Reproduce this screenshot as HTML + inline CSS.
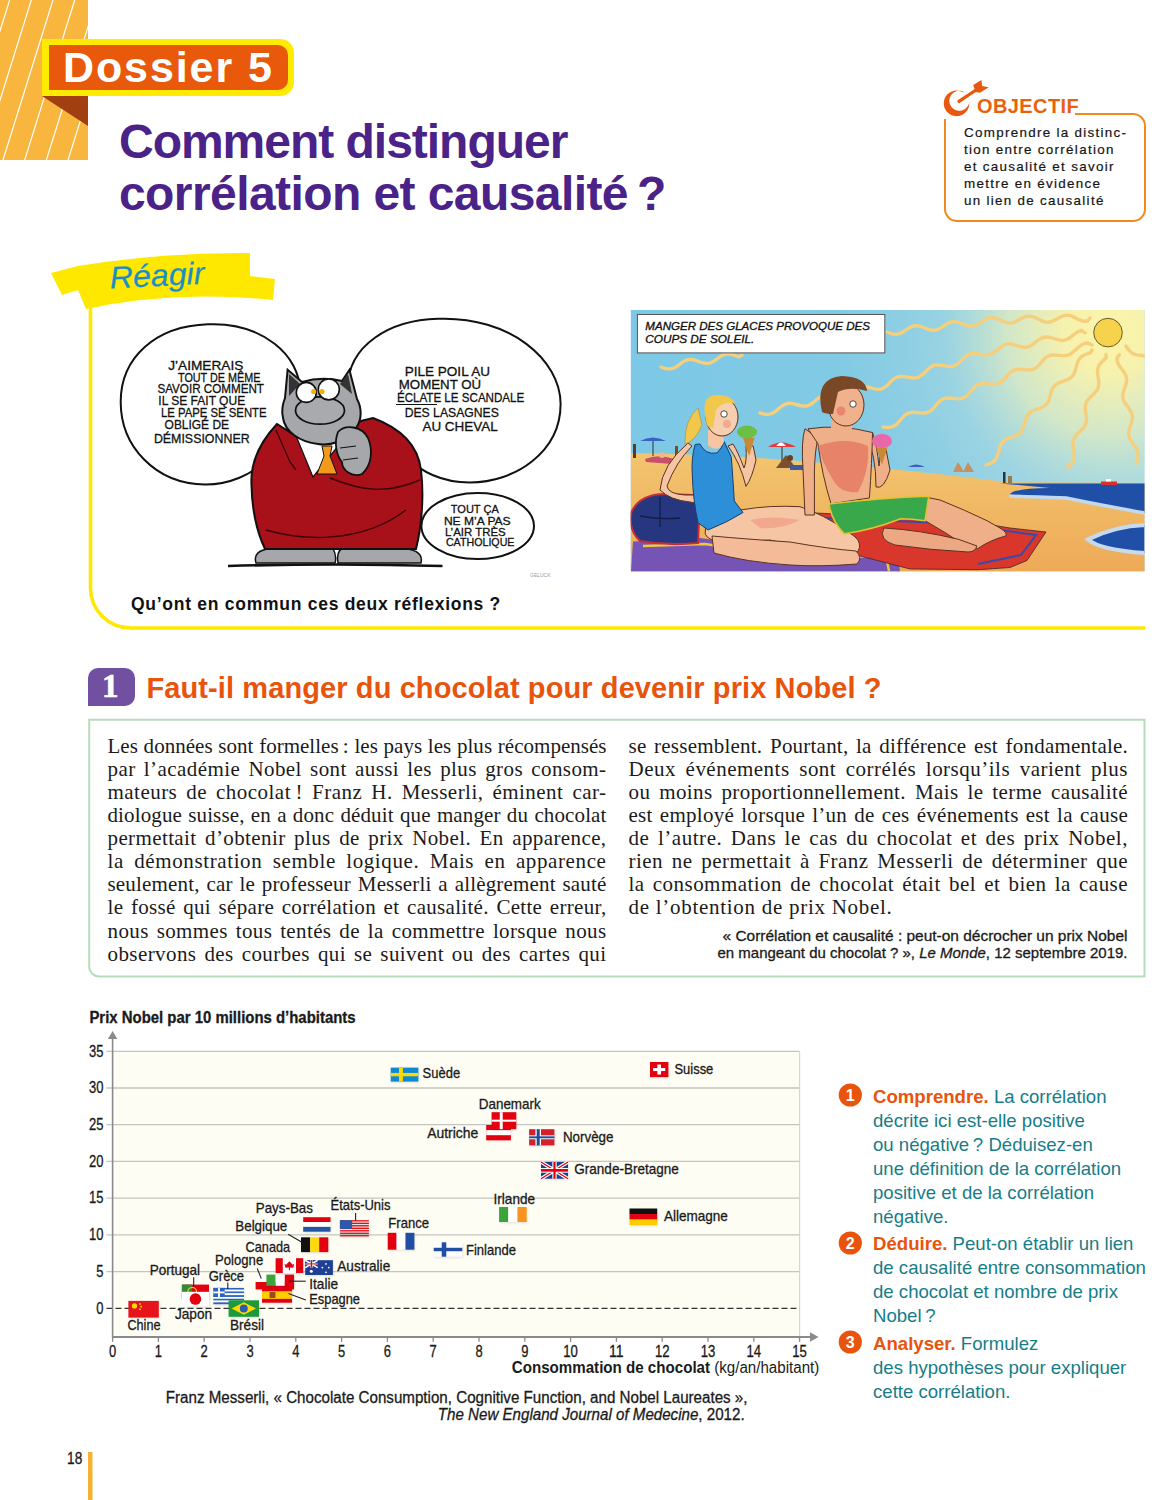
<!DOCTYPE html>
<html lang="fr">
<head>
<meta charset="utf-8">
<style>
html,body{margin:0;padding:0;background:#fff;}
body{width:1173px;height:1500px;position:relative;overflow:hidden;font-family:"Liberation Sans",sans-serif;color:#1a1a1a;}
.a{position:absolute;white-space:nowrap;}
svg{position:absolute;left:0;top:0;}
.title{left:119px;top:115.5px;font-size:48px;font-weight:bold;color:#4a2288;line-height:52px;letter-spacing:-0.8px;}
.obj{left:964px;top:125px;font-size:13.4px;line-height:16.9px;color:#151515;letter-spacing:1.3px;-webkit-text-stroke:0.2px #151515;}
.body{font-family:"Liberation Serif",serif;font-size:21px;line-height:23.15px;color:#1b1b1b;}
.body div{text-align:justify;text-align-last:justify;white-space:nowrap;height:23.15px;}
.body div.l{text-align-last:left;}
.qs{left:873px;font-size:18.6px;line-height:24px;color:#167d88;}
.qs b{color:#e8540c;}
</style>
</head>
<body>
<svg width="1173" height="1500" viewBox="0 0 1173 1500" style="font-family:'Liberation Sans',sans-serif">
<path d="M208,324.3 C262,322 301,356 299.8,392 C298,445 252,485 205,484.5 C155,484 120.7,446 120.7,402 C120.7,358 155,326 208,324.3 Z" fill="#fff" stroke="#111" stroke-width="2"/>
<path d="M438,318.8 C510,316 560.6,360 560.6,404 C560.6,452 515,482.5 470,482.5 C440,482.5 420,470 410,460 C370,440 347.8,420 347.8,388 C347.8,345 390,320 438,318.8 Z" fill="#fff" stroke="#111" stroke-width="2"/>
<ellipse cx="477.7" cy="526" rx="56.3" ry="33" fill="#fff" stroke="#111" stroke-width="2"/>
<text x="168.2" y="370.0" font-size="13.5" font-weight="normal" fill="#111" stroke="#111" stroke-width="0.3" textLength="75.2" lengthAdjust="spacingAndGlyphs">J’AIMERAIS</text>
<text x="178.0" y="381.6" font-size="13.5" font-weight="normal" fill="#111" stroke="#111" stroke-width="0.3" textLength="82.4" lengthAdjust="spacingAndGlyphs">TOUT DE MÊME</text>
<text x="157.4" y="393.2" font-size="13.5" font-weight="normal" fill="#111" stroke="#111" stroke-width="0.3" textLength="106.6" lengthAdjust="spacingAndGlyphs">SAVOIR COMMENT</text>
<text x="158.3" y="404.9" font-size="13.5" font-weight="normal" fill="#111" stroke="#111" stroke-width="0.3" textLength="86.9" lengthAdjust="spacingAndGlyphs">IL SE FAIT QUE</text>
<text x="161.0" y="417.4" font-size="13.5" font-weight="normal" fill="#111" stroke="#111" stroke-width="0.3" textLength="105.6" lengthAdjust="spacingAndGlyphs">LE PAPE SE SENTE</text>
<text x="164.6" y="429.0" font-size="13.5" font-weight="normal" fill="#111" stroke="#111" stroke-width="0.3" textLength="64.4" lengthAdjust="spacingAndGlyphs">OBLIGÉ DE</text>
<text x="153.9" y="443.4" font-size="13.5" font-weight="normal" fill="#111" stroke="#111" stroke-width="0.3" textLength="95.7" lengthAdjust="spacingAndGlyphs">DÉMISSIONNER</text>
<text x="404.7" y="375.7" font-size="13.5" font-weight="normal" fill="#111" stroke="#111" stroke-width="0.3" textLength="85.3" lengthAdjust="spacingAndGlyphs">PILE POIL AU</text>
<text x="398.8" y="389.4" font-size="13.5" font-weight="normal" fill="#111" stroke="#111" stroke-width="0.3" textLength="82.4" lengthAdjust="spacingAndGlyphs">MOMENT OÙ</text>
<text x="396.9" y="402.2" font-size="13.5" font-weight="normal" fill="#111" stroke="#111" stroke-width="0.3" textLength="127.4" lengthAdjust="spacingAndGlyphs">ÉCLATE LE SCANDALE</text>
<text x="404.7" y="416.9" font-size="13.5" font-weight="normal" fill="#111" stroke="#111" stroke-width="0.3" textLength="94.1" lengthAdjust="spacingAndGlyphs">DES LASAGNES</text>
<text x="422.4" y="430.6" font-size="13.5" font-weight="normal" fill="#111" stroke="#111" stroke-width="0.3" textLength="75.4" lengthAdjust="spacingAndGlyphs">AU CHEVAL</text>
<line x1="396" y1="404.5" x2="437" y2="404.5" stroke="#111" stroke-width="1.2"/>
<text x="450.8" y="513.0" font-size="11.5" font-weight="normal" fill="#111" stroke="#111" stroke-width="0.3" textLength="48.0" lengthAdjust="spacingAndGlyphs">TOUT ÇA</text>
<text x="443.9" y="524.7" font-size="11.5" font-weight="normal" fill="#111" stroke="#111" stroke-width="0.3" textLength="66.7" lengthAdjust="spacingAndGlyphs">NE M’A PAS</text>
<text x="444.9" y="535.5" font-size="11.5" font-weight="normal" fill="#111" stroke="#111" stroke-width="0.3" textLength="60.8" lengthAdjust="spacingAndGlyphs">L’AIR TRÈS</text>
<text x="445.9" y="546.3" font-size="11.5" font-weight="normal" fill="#111" stroke="#111" stroke-width="0.3" textLength="68.6" lengthAdjust="spacingAndGlyphs">CATHOLIQUE</text>
<path d="M228,566 Q335,563 442.5,566" fill="none" stroke="#111" stroke-width="2.6"/>
<path d="M256,563 Q252,550 272,548.5 L333,548.5 Q337,556 335,563 Z" fill="#a6a7aa" stroke="#111" stroke-width="1.5"/>
<path d="M338,563 Q336,552 342,548.5 L405,548.5 Q424,551 421,563 Z" fill="#a6a7aa" stroke="#111" stroke-width="1.5"/>
<path d="M277,424 C262,440 250,460 251.5,485 C252,510 256,530 265,549 L416,549 C422,525 424,495 421,470 C418,445 400,428 373,418 L361,421 C345,432 320,440 296,436 Z" fill="#a8101a" stroke="#111" stroke-width="2"/>
<path d="M266,530 C300,540 360,545 406,510" fill="none" stroke="#3a0508" stroke-width="1.5"/>
<path d="M330,478 C360,490 385,495 420,480" fill="none" stroke="#3a0508" stroke-width="1.5"/>
<path d="M276,430 L290,462 L296,470" fill="none" stroke="#3a0508" stroke-width="1.3"/>
<polygon points="296.5,437 343,440 313,477" fill="#fff" stroke="#111" stroke-width="1.2"/>
<path d="M322,446 L332,446 L330,456 L337,474 L317,474 L324,456 Z" fill="#f39a1e" stroke="#111" stroke-width="1"/>
<path d="M287.6,369.8 L302,382 C315,378 330,378 342,381 L349.4,369.8 L357,399 C362,408 362,420 356,428 C345,442 330,446 318,444 C300,442 285,432 283,418 C281,410 283,403 285,398 Z" fill="#a6a7aa" stroke="#111" stroke-width="2"/>
<path d="M289,374 L300,384 L289,396 Z" fill="#333"/><path d="M348,374 L340,384 L352,394 Z" fill="#333"/>
<ellipse cx="320" cy="410.5" rx="24.5" ry="13.7" fill="#a9aaad" stroke="#111" stroke-width="1.8"/>
<circle cx="306.3" cy="392.4" r="10" fill="#fff" stroke="#111" stroke-width="1.6"/><circle cx="328.8" cy="389.4" r="10.5" fill="#fff" stroke="#111" stroke-width="1.6"/>
<circle cx="313.7" cy="391.5" r="2.6" fill="#f2b200"/><circle cx="322" cy="391.5" r="2.6" fill="#f2b200"/>
<path d="M338,432 C345,424 362,426 368,438 C373,450 372,465 362,474 C352,478 342,470 342,462 C336,455 334,442 338,432 Z" fill="#a6a7aa" stroke="#111" stroke-width="1.8"/>
<path d="M340,448 L356,446 M343,460 L358,458" stroke="#111" stroke-width="1.2"/>
<text x="530" y="577" font-size="5" fill="#999">GELUCK</text>
</svg>
<svg width="1173" height="1500" viewBox="0 0 1173 1500" style="font-family:'Liberation Sans',sans-serif">
<defs>
<radialGradient id="glow" gradientUnits="userSpaceOnUse" cx="1108" cy="333" r="270">
<stop offset="0" stop-color="#fbf4a8" stop-opacity="1"/><stop offset="0.16" stop-color="#f6f1ae" stop-opacity="1"/><stop offset="0.38" stop-color="#dcebc4" stop-opacity="0.85"/><stop offset="0.62" stop-color="#b4dde0" stop-opacity="0.4"/><stop offset="1" stop-color="#a6d8e2" stop-opacity="0"/>
</radialGradient>
<linearGradient id="skyl" gradientUnits="userSpaceOnUse" x1="630" y1="0" x2="1145" y2="0">
<stop offset="0" stop-color="#7cc8e6"/><stop offset="0.6" stop-color="#84cbe4"/><stop offset="1" stop-color="#9ed5e2"/>
</linearGradient>
<linearGradient id="sand" x1="0" y1="0" x2="0" y2="1"><stop offset="0" stop-color="#f3c46e"/><stop offset="1" stop-color="#eeaa58"/></linearGradient>
<clipPath id="bclip"><rect x="630.6" y="310" width="514.1" height="261.6"/></clipPath>
</defs>
<g clip-path="url(#bclip)">
<rect x="630.6" y="310" width="514.1" height="261.6" fill="url(#skyl)"/>
<rect x="630.6" y="310" width="514.1" height="261.6" fill="url(#glow)"/>
<path d="M661.0,367.0 L664.2,368.1 L667.4,368.9 L670.5,368.9 L673.4,368.2 L676.3,366.7 L679.1,364.8 L681.8,362.7 L684.6,360.9 L687.5,359.8 L690.5,359.4 L693.7,359.8 L696.9,360.8 L700.1,362.0 L703.3,363.0 L706.5,363.4 L709.5,363.1 L712.4,362.0 L715.2,360.3 L718.0,358.2 L720.7,356.3 L723.6,354.7 L726.5,354.0 L729.6,354.0 L732.8,354.7 L736.0,355.8 L739.2,356.9 L742.0,355.0" fill="none" stroke="#f5cf7c" stroke-width="3.4" stroke-linecap="round" stroke-linejoin="round"/>
<path d="M887.0,332.0 L890.2,333.3 L893.4,334.1 L896.5,334.3 L899.5,333.6 L902.5,332.2 L905.4,330.4 L908.2,328.4 L911.2,326.8 L914.1,325.8 L917.2,325.7 L920.4,326.3 L923.6,327.5 L926.8,328.8 L930.0,329.9 L933.1,330.3 L936.2,330.0 L939.2,328.8 L942.1,327.1 L944.9,325.1 L947.8,323.3 L950.8,322.1 L953.8,321.6 L957.0,322.0 L960.2,323.0 L963.4,324.3 L966.6,325.5 L969.8,326.2 L972.9,326.2 L975.9,325.3 L978.8,323.8 L981.7,321.8 L984.5,319.9 L987.5,318.5 L990.5,317.7 L993.6,317.8 L996.8,318.6 L1000.0,319.8 L1003.0,321.3 L1006.1,322.5 L1009.1,323.1 L1012.1,322.8 L1015.0,321.8 L1018.0,320.3 L1021.0,318.6 L1023.9,317.2 L1026.9,316.3 L1029.9,316.1 L1032.9,316.7 L1036.0,317.9 L1039.0,319.5 L1042.0,320.9 L1045.1,321.9 L1048.1,322.2 L1051.1,321.7 L1054.0,320.5 L1057.0,318.9 L1060.0,317.3 L1062.9,315.9 L1065.9,315.3 L1068.9,315.4 L1072.0,316.2 L1075.0,317.6 L1078.0,319.2 L1081.1,320.5 L1084.1,321.3 L1087.1,321.3 L1090.0,318.0" fill="none" stroke="#f5cf7c" stroke-width="3.4" stroke-linecap="round" stroke-linejoin="round"/>
<path d="M760.0,413.0 L763.3,413.9 L766.5,414.4 L769.5,414.2 L772.4,413.3 L775.1,411.7 L777.7,409.6 L780.3,407.3 L782.9,405.4 L785.6,404.0 L788.6,403.3 L791.7,403.4 L794.9,404.1 L798.2,405.0 L801.4,405.8 L804.6,406.1 L807.6,405.7 L810.4,404.5 L813.0,402.7 L815.6,400.5 L818.2,398.3 L820.9,396.5 L823.7,395.3 L826.7,394.9 L829.8,395.2 L833.1,396.0 L836.3,396.9 L839.6,397.6 L842.7,397.7 L845.6,397.0 L848.3,395.6 L851.0,393.6 L853.5,391.4 L856.1,389.3 L858.8,387.7 L861.7,386.7 L864.8,386.6 L867.9,387.1 L871.2,388.0 L874.5,388.8 L877.7,389.4 L881.0,389.1 L883.8,387.9 L886.4,386.1 L888.8,383.7 L891.2,381.2 L893.7,379.0 L896.4,377.4 L899.3,376.5 L902.5,376.4 L905.8,376.9 L909.2,377.5 L912.5,378.0 L915.7,377.9 L918.7,377.1 L921.3,375.5 L923.8,373.4 L926.3,370.9 L928.7,368.5 L931.3,366.6 L934.1,365.3 L937.1,364.9 L940.3,365.1 L943.7,365.6 L947.1,366.2 L950.4,366.5 L953.4,366.1 L956.2,364.9 L958.8,363.0 L961.3,360.6 L963.7,358.1 L966.2,355.9 L968.8,354.3 L971.8,353.5 L974.9,353.4 L978.2,353.8 L981.6,354.4 L985.0,354.9 L988.2,354.8 L991.1,354.0 L993.5,352.5 L996.2,350.7 L998.9,348.6 L1001.6,346.5 L1004.3,344.9 L1007.2,344.0 L1010.3,343.9 L1013.5,344.5 L1016.7,345.5 L1020.0,346.5 L1023.2,347.2 L1026.2,347.2 L1029.2,346.4 L1032.0,344.9 L1034.7,342.9 L1037.3,340.8 L1040.1,338.9 L1042.9,337.5 L1045.8,337.0 L1048.9,337.2 L1052.2,338.0 L1055.4,339.0 L1058.7,339.9 L1061.8,340.4 L1064.8,340.1 L1067.7,339.0 L1070.4,337.3 L1073.1,335.1 L1075.8,333.1 L1078.6,331.3 L1081.4,330.3 L1085.0,333.0" fill="none" stroke="#f5cf7c" stroke-width="3.4" stroke-linecap="round" stroke-linejoin="round"/>
<path d="M883.0,427.0 L886.4,427.3 L889.6,427.3 L892.6,426.6 L895.3,425.3 L897.7,423.2 L899.9,420.7 L902.0,418.1 L904.3,415.7 L906.8,413.8 L909.6,412.7 L912.7,412.3 L916.0,412.4 L919.3,412.8 L922.7,413.0 L925.8,412.8 L928.7,411.9 L931.3,410.3 L933.6,408.1 L935.8,405.5 L938.0,402.9 L940.3,400.7 L942.9,399.0 L945.8,398.2 L948.9,398.0 L952.3,398.2 L955.7,398.6 L959.0,398.7 L962.0,398.3 L964.8,397.1 L967.3,395.3 L969.6,392.9 L971.7,390.2 L973.9,387.7 L976.4,385.7 L979.0,384.3 L982.0,383.7 L985.3,383.7 L988.6,384.0 L992.0,384.3 L995.2,384.3 L998.2,383.6 L1000.9,382.2 L1003.3,380.2 L1005.5,377.7 L1007.7,375.0 L1009.9,372.6 L1012.4,370.8 L1015.2,369.7 L1018.3,369.3 L1021.6,369.4 L1025.0,369.8 L1028.3,370.0 L1031.5,369.8 L1034.3,368.9 L1036.9,367.3 L1039.2,365.0 L1041.4,362.4 L1043.6,359.8 L1045.9,357.6 L1048.5,356.0 L1051.4,355.1 L1054.6,354.9 L1057.9,355.2 L1061.3,355.6 L1064.6,355.7 L1067.7,355.2 L1070.4,354.1 L1072.6,352.3 L1075.5,349.9 L1078.4,347.3 L1081.4,345.0 L1084.5,343.5 L1087.9,343.0 L1092.0,345.0" fill="none" stroke="#f5cf7c" stroke-width="3.4" stroke-linecap="round" stroke-linejoin="round"/>
<path d="M986.0,465.0 L989.2,463.9 L992.1,462.5 L994.5,460.6 L996.4,458.2 L997.7,455.3 L998.6,452.1 L999.5,448.8 L1000.5,445.6 L1002.0,442.9 L1004.0,440.7 L1006.7,439.0 L1009.7,437.8 L1012.9,436.7 L1016.1,435.4 L1018.8,433.9 L1021.0,431.8 L1022.7,429.2 L1023.8,426.2 L1024.7,422.9 L1025.6,419.7 L1026.7,416.7 L1028.4,414.1 L1030.7,412.1 L1033.5,410.6 L1036.6,409.4 L1039.9,408.3 L1042.9,407.0 L1045.4,405.3 L1047.4,403.0 L1048.9,400.2 L1049.9,397.1 L1050.7,393.8 L1051.7,390.6 L1053.0,387.7 L1054.9,385.4 L1057.4,383.6 L1060.4,382.2 L1063.6,381.1 L1066.8,379.9 L1069.6,378.5 L1072.0,376.6 L1073.8,374.1 L1075.0,371.2 L1076.0,367.9 L1076.8,364.6 L1077.9,361.5 L1079.4,358.9 L1081.5,356.7 L1084.2,355.1 L1087.3,353.8 L1090.5,352.7 L1092.0,350.0" fill="none" stroke="#f5cf7c" stroke-width="3.4" stroke-linecap="round" stroke-linejoin="round"/>
<path d="M1067.5,467.5 L1070.0,465.1 L1072.1,462.6 L1073.6,459.9 L1074.3,456.9 L1074.2,453.6 L1073.7,450.2 L1073.2,446.8 L1072.9,443.5 L1073.3,440.4 L1074.4,437.5 L1076.3,434.9 L1078.7,432.5 L1081.2,430.1 L1083.6,427.7 L1085.3,425.1 L1086.3,422.2 L1086.6,419.0 L1086.2,415.7 L1085.7,412.2 L1085.2,408.9 L1085.3,405.7 L1086.1,402.7 L1087.7,400.0 L1089.9,397.5 L1092.5,395.2 L1094.9,392.8 L1096.9,390.2 L1098.3,387.4 L1098.8,384.4 L1098.7,381.1 L1098.2,377.7 L1097.6,374.3 L1097.5,371.0 L1097.9,367.9 L1099.2,365.1 L1101.2,362.6 L1103.6,360.2 L1106.2,357.8 L1106.0,354.5" fill="none" stroke="#f5cf7c" stroke-width="3.4" stroke-linecap="round" stroke-linejoin="round"/>
<path d="M1136.4,463.0 L1137.5,459.7 L1138.2,456.5 L1138.2,453.5 L1137.5,450.5 L1135.9,447.6 L1134.0,444.9 L1131.9,442.1 L1130.1,439.3 L1129.0,436.4 L1128.6,433.3 L1129.0,430.2 L1130.0,426.9 L1131.2,423.7 L1132.1,420.4 L1132.5,417.3 L1132.1,414.3 L1130.9,411.4 L1129.1,408.6 L1127.0,405.8 L1125.0,403.0 L1123.5,400.2 L1122.8,397.2 L1122.9,394.1 L1123.7,390.9 L1124.8,387.6 L1125.9,384.4 L1126.6,381.2 L1126.5,378.1 L1125.7,375.1 L1124.1,372.3 L1122.1,369.5 L1120.0,366.8 L1118.3,364.0 L1117.2,361.0 L1116.9,358.0 L1119.5,354.5" fill="none" stroke="#f5cf7c" stroke-width="3.4" stroke-linecap="round" stroke-linejoin="round"/>
<path d="M1126.0,346.0 L1128.1,349.2 L1130.5,351.9 L1133.4,353.9 L1136.8,354.9 L1140.5,355.2 L1144.0,356.0" fill="none" stroke="#f5cf7c" stroke-width="3.4" stroke-linecap="round" stroke-linejoin="round"/>
<circle cx="1108" cy="332.6" r="14.3" fill="#f7d24c" stroke="#6b5a2a" stroke-width="1"/>
<path d="M630.6,453 Q700,454 760,458 Q880,466 1009,482.3 L1144.7,483 L1144.7,571.6 L630.6,571.6 Z" fill="url(#sand)"/>
<path d="M1000,483.4 L1144.7,483.4 L1144.7,513 Q1100,505 1066,498 Q1030,497 1009,496 Q1010,488 1050,488 Z" fill="#1f4fa6"/>
<path d="M1144.7,513 Q1100,505 1066,498 Q1030,497 1009,496" fill="none" stroke="#c2d8ee" stroke-width="3.5"/>
<path d="M1146,525 Q1115,526 1088,539.4 Q1100,550 1146,553 Z" fill="#1f4fa6" stroke="#c6daee" stroke-width="4"/>
<rect x="1101" y="481.5" width="16" height="3.5" fill="#d8302a"/><rect x="1106" y="479" width="5" height="2.5" fill="#fff"/>
<path d="M640,441 Q653,434 666,441 Z" fill="#3a62c0"/><line x1="653" y1="441" x2="653" y2="456" stroke="#333" stroke-width="1"/>
<path d="M768,447 Q781,438 796,447 Z" fill="#e23a3a"/><path d="M776,446 Q781,439 786,446 Z" fill="#fff"/><line x1="782" y1="447" x2="782" y2="462" stroke="#333" stroke-width="1"/>
<path d="M908,467 Q916,462 925,467 Z" fill="#3a62c0"/>
<rect x="633" y="444" width="3" height="14" fill="#5a3a2a"/><rect x="675" y="446" width="3" height="12" fill="#7a4a2a"/><rect x="1003" y="472" width="2.5" height="11" fill="#333"/><rect x="1008" y="476" width="4" height="8" fill="#9a7a50"/>
<path d="M645,459 Q660,453 676,460 L672,464 L646,462 Z" fill="#c9506a"/><circle cx="662" cy="455" r="3" fill="#e8b890"/>
<path d="M776,468 L786,455 L796,468 Z" fill="#7a5030"/><rect x="790" y="465" width="16" height="5" fill="#3a5aa0"/><circle cx="790" cy="458" r="3" fill="#6a4020"/>
<path d="M953,472 L958,462 L964,472 Z" fill="#c89060"/><path d="M963,472 L968,462 L974,472 Z" fill="#c89060"/>
<path d="M633,541.5 L700,538 L800,552 L897,551 L900,571.6 L631,571.6 Z" fill="#7654b6"/>
<path d="M643,546 L705,544 L800,558 L886,556 L889,571" fill="none" stroke="#f2c53a" stroke-width="2.4"/>
<path d="M814.4,513 L953,518.8 L1010,528 L1046,532 L1027,560.5 L1010,567.5 L979,569.7 L910,569 L860,556 Z" fill="#d9372c" stroke="#3a2a2a" stroke-width="0.8"/>
<path d="M822,518 L953,523.5 L1036,535 L1021,555 L978,564" fill="none" stroke="#3a4aa8" stroke-width="2"/>
<path d="M631.4,512 Q640,494 665,494 L692,495 Q700,502 699,520 L698,543 Q668,546 640,541 Q628,530 631.4,512 Z" fill="#26367f" stroke="#c42d3a" stroke-width="2"/>
<path d="M660,497 L660,527 M640,516 Q660,520 680,518" stroke="#151c4a" stroke-width="1.3" fill="none"/>
<path d="M743,509.6 Q770,505 800,506.7 Q825,515 845,530 Q855,536 858,540 Q862,548 856,553 Q835,553 815,549 Q790,545 770,540 Q745,542 717,541.5 Q703,538 705.4,530 Q705,519 711,514 Z" fill="#f6c6a4" stroke="#5a3222" stroke-width="1"/>
<path d="M712,536 Q745,539 790,542 Q830,549 856,551 Q863,558 857,564 Q820,567 790,565 Q745,562 714,553 Z" fill="#f3bb98" stroke="#5a3222" stroke-width="1"/>
<path d="M750,520 Q775,515 800,520 Q780,530 760,528 Z" fill="#ec8f78" opacity="0.55"/>
<path d="M692,446 Q676,462 667,486 Q668,494 685,495 L702.5,495 Q712,500 713,509.6 L705,511 Q700,503 690,502 Q670,500 660,490 Q662,465 688,443 Z" fill="#f6c6a4" stroke="#5a3222" stroke-width="1"/>
<path d="M695.2,444.4 L700,444 Q705,455 717,453 Q722,448 724.2,441.5 L731.4,457.5 Q733,480 734.3,501 L743,512.5 Q728,522 708,530 L698,522.7 Q693,500 692.3,474.9 Q691,458 695.2,444.4 Z" fill="#2c8fd7" stroke="#173f6e" stroke-width="1"/>
<path d="M708,430 L723,430 L724,442 Q718,454 708,445 Z" fill="#f6c6a4"/>
<path d="M728,446 Q740,462 746,486.4 Q752,478 756,460 L753.2,446 L746,446 Q747,462 744,468 Q738,452 733,444 Z" fill="#f6c6a4" stroke="#5a3222" stroke-width="1"/>
<path d="M743,438 L754.6,438 L749,456 Z" fill="#c98a38"/><ellipse cx="747" cy="432" rx="10" ry="6.5" fill="#6cbf45"/>
<ellipse cx="722" cy="417" rx="16" ry="19" fill="#f7ceae" stroke="#5a3222" stroke-width="1"/>
<path d="M706,420 Q700,396 716,395 Q730,394 735,403 Q722,401 716,410 L713,428 Q706,428 706,420 Z" fill="#f1c84c"/>
<path d="M698,408 Q684,420 685,444.4 Q696,440 702,425 Z" fill="#f1c84c" stroke="#b08a2a" stroke-width="0.6"/>
<circle cx="724" cy="414" r="3.2" fill="#fff" stroke="#222" stroke-width="0.8"/><circle cx="727" cy="424" r="4" fill="#ec8a80" opacity="0.55"/>
<path d="M805,428.8 Q801,440 803,470 L805,515 L814.4,515 L814.4,470 Q815,450 818,438 Z" fill="#efaf88" stroke="#5a3222" stroke-width="1"/>
<path d="M866,434 Q876,455 876,487 Q884,490 890,470 L886,449.4 L880,449.4 Q880,462 879,466 Q877,446 872.5,432.5 Z" fill="#efaf88" stroke="#5a3222" stroke-width="1"/>
<path d="M808,428.8 Q840,424 872.5,432.5 Q872,462 869.4,498 L831,503.8 Q822,475 818,443.8 Z" fill="#efaf88" stroke="#5a3222" stroke-width="1"/>
<path d="M818,446 Q845,436 868,446 Q870,470 858,492 Q840,494 832,478 Q822,462 818,446 Z" fill="#e3705c" opacity="0.7"/>
<path d="M876,447.5 L887.5,447.5 L882,464.4 Z" fill="#c98a38"/><ellipse cx="882" cy="441" rx="10" ry="7" fill="#e868aa"/>
<rect x="831" y="415" width="21" height="14" fill="#efaf88"/>
<ellipse cx="846" cy="405" rx="18" ry="21" fill="#f0b28c" stroke="#5a3222" stroke-width="1"/>
<path d="M822,412 Q814,378 842,376 Q866,377 867,391 Q850,386 838,392 L833,414 Q826,414 822,412 Z" fill="#7a4826"/>
<circle cx="853" cy="404" r="3.2" fill="#fff" stroke="#222" stroke-width="0.8"/><circle cx="841" cy="411" r="4.5" fill="#e5605a" opacity="0.55"/>
<path d="M925,497 L940,500 Q965,510 987,520.7 L1000,528 Q1008,533 1005.7,536 Q990,540 977.5,548.8 Q970,546 964.4,545 Q945,532 925,520.7 Z" fill="#efaf88" stroke="#5a3222" stroke-width="1"/>
<path d="M883.8,528 Q920,530 958.8,539.4 L977,546 Q975,552 968,552 Q930,550 895,545 Q878,540 883.8,528 Z" fill="#eba882" stroke="#5a3222" stroke-width="1"/>
<path d="M829,504 Q880,498 928.8,496.3 L925,520.7 Q912,519 900.7,518.8 Q872,530 844.4,533.8 Q832,522 829,504 Z" fill="#39a84b" stroke="#e2c232" stroke-width="1.6"/>
</g>
<rect x="637.4" y="314.5" width="247.4" height="38.4" fill="#fff" stroke="#555" stroke-width="1"/>
<text x="645.3" y="329.9" font-size="10" font-style="italic" fill="#111" stroke="#111" stroke-width="0.3" textLength="224.7" lengthAdjust="spacingAndGlyphs">MANGER DES GLACES PROVOQUE DES</text>
<text x="645.3" y="343.4" font-size="10" font-style="italic" fill="#111" stroke="#111" stroke-width="0.3" textLength="109" lengthAdjust="spacingAndGlyphs">COUPS DE SOLEIL.</text>
</svg>
<svg width="1173" height="1500" viewBox="0 0 1173 1500">
  <defs><clipPath id="stripeclip"><rect x="0" y="0" width="88" height="160"/></clipPath></defs>
  <rect x="0" y="0" width="88" height="160" fill="#f8b63f"/>
  <g clip-path="url(#stripeclip)" stroke="#fff" stroke-width="1.2">
<line x1="-55.5" y1="0" x2="-105.5" y2="160"/>
<line x1="-33.8" y1="0" x2="-83.8" y2="160"/>
<line x1="-12.1" y1="0" x2="-62.1" y2="160"/>
<line x1="9.6" y1="0" x2="-40.4" y2="160"/>
<line x1="31.3" y1="0" x2="-18.7" y2="160"/>
<line x1="53.0" y1="0" x2="3.0" y2="160"/>
<line x1="74.7" y1="0" x2="24.7" y2="160"/>
<line x1="96.4" y1="0" x2="46.4" y2="160"/>
<line x1="118.1" y1="0" x2="68.1" y2="160"/>
</g>
  <polygon points="42,96 88,96 88,126" fill="#a23f10"/>
  <path d="M42,39 H280 a14,14 0 0 1 14,14 V82 a14,14 0 0 1 -14,14 H42 Z" fill="#ffeb00"/>
  <path d="M49,45 H278 a10,10 0 0 1 10,10 V80 a10,10 0 0 1 -10,10 H49 Z" fill="#e8590c"/>
  <path d="M945,119 V209 a12,12 0 0 0 12,12 H1133 a12,12 0 0 0 12,-12 V126 a12,12 0 0 0 -12,-12 H1075" fill="none" stroke="#f08a1e" stroke-width="2"/>
  <path d="M962.90,92.31 A12.8,12.8 0 1 0 969.23,102.06 L969.25,99.75 A10.0,10.0 0 1 1 964.30,92.14 Z" fill="#e8580e"/>
  <line x1="959" y1="101.4" x2="976" y2="90" stroke="#e8580e" stroke-width="3.3" stroke-linecap="round"/>
  <polygon points="973.2,85 981.5,80 982,86 988.7,87.2 979.9,92.7 975.5,92" fill="#e8580e"/>
  <path d="M90.5,305 V588 a40,40 0 0 0 40,40 H1145.5" fill="none" stroke="#ffe800" stroke-width="3.6"/>
  <path d="M51,273 L78,266 Q165,252 250,253 L250,276 L275,279 L273,300 Q175,290 86,309 L78,290 L62,295 Z" fill="#ffe800"/>
  <path d="M88,706 V678 a10,10 0 0 1 10,-10 H125 a10,10 0 0 1 10,10 V696 a10,10 0 0 1 -10,10 Z" fill="#7150a1"/>
  <path d="M89.2,719.8 H1144.5 V976.5 H99.2 a10,10 0 0 1 -10,-10 Z" fill="none" stroke="#b8dcbb" stroke-width="2"/>
  <rect x="88" y="1452" width="4.5" height="48" fill="#f7b133"/>
</svg>
<div class="a" style="left:63px;top:43px;font-size:43px;font-weight:bold;color:#fff;letter-spacing:1.9px;">Dossier 5</div>
<div class="a title"><span style="letter-spacing:-1.02px">Comment distinguer</span><br><span style="letter-spacing:-0.58px">corrélation et causalité&#8239;?</span></div>
<div class="a" style="left:977px;top:94.5px;font-size:20px;font-weight:bold;color:#e8620e;letter-spacing:0.4px;">OBJECTIF</div>
<div class="a obj">Comprendre la distinc-<br>tion entre corrélation<br>et causalité et savoir<br>mettre en évidence<br>un lien de causalité</div>
<svg width="1173" height="400" viewBox="0 0 1173 400" style="font-family:Liberation Sans,sans-serif"><text x="110.3" y="288.6" font-size="31" font-style="italic" fill="#1a8ec6" stroke="#1a8ec6" stroke-width="0.2" textLength="94.7" lengthAdjust="spacingAndGlyphs" transform="rotate(-3 110 288)">Réagir</text></svg>
<div class="a" style="left:131px;top:593.5px;font-size:17.5px;font-weight:bold;color:#111;letter-spacing:0.73px;">Qu’ont en commun ces deux réflexions ?</div>
<div class="a" style="left:102px;top:667.5px;font-family:'Liberation Serif',serif;font-size:33px;font-weight:bold;color:#fff;-webkit-text-stroke:0.7px #fff;">1</div>
<div class="a" style="left:146.5px;top:671.5px;font-size:29px;font-weight:bold;color:#e8540c;letter-spacing:0.1px;">Faut-il manger du chocolat pour devenir prix Nobel ?</div>
<div class="a body" style="left:107.5px;top:734.5px;width:499px;">
<div style="letter-spacing:0.02px">Les données sont formelles : les pays les plus récompensés</div>
<div style="letter-spacing:0.42px">par l’académie Nobel sont aussi les plus gros consom-</div>
<div style="letter-spacing:0.47px">mateurs de chocolat ! Franz H. Messerli, éminent car-</div>
<div style="letter-spacing:0.12px">diologue suisse, en a donc déduit que manger du chocolat</div>
<div style="letter-spacing:0.39px">permettait d’obtenir plus de prix Nobel. En apparence,</div>
<div style="letter-spacing:0.61px">la démonstration semble logique. Mais en apparence</div>
<div style="letter-spacing:0.17px">seulement, car le professeur Messerli a allègrement sauté</div>
<div style="letter-spacing:0.30px">le fossé qui sépare corrélation et causalité. Cette erreur,</div>
<div style="letter-spacing:0.38px">nous sommes tous tentés de la commettre lorsque nous</div>
<div style="letter-spacing:0.42px">observons des courbes qui se suivent ou des cartes qui</div>
</div>
<div class="a body" style="left:628.5px;top:734.5px;width:499.5px;">
<div style="letter-spacing:0.22px">se ressemblent. Pourtant, la différence est fondamentale.</div>
<div style="letter-spacing:0.49px">Deux événements sont corrélés lorsqu’ils varient plus</div>
<div style="letter-spacing:0.39px">ou moins proportionnellement. Mais le terme causalité</div>
<div style="letter-spacing:0.28px">est employé lorsque l’un de ces événements est la cause</div>
<div style="letter-spacing:0.55px">de l’autre. Dans le cas du chocolat et des prix Nobel,</div>
<div style="letter-spacing:0.49px">rien ne permettait à Franz Messerli de déterminer que</div>
<div style="letter-spacing:0.46px">la consommation de chocolat était bel et bien la cause</div>
<div class="l" style="letter-spacing:0.72px">de l’obtention de prix Nobel.</div>
</div>
<svg width="1173" height="1500" viewBox="0 0 1173 1500" style="font-family:'Liberation Sans',sans-serif">
<defs><filter id="fsh" x="-30%" y="-30%" width="160%" height="160%"><feGaussianBlur stdDeviation="1.2"/></filter></defs>
<rect x="112.6" y="1051.3" width="687.0" height="285.7" fill="#fefdf4"/>
<line x1="106.5" y1="1271.6" x2="799.6" y2="1271.6" stroke="#c4c4c0" stroke-width="1.3"/>
<line x1="106.5" y1="1234.9" x2="799.6" y2="1234.9" stroke="#c4c4c0" stroke-width="1.3"/>
<line x1="106.5" y1="1198.2" x2="799.6" y2="1198.2" stroke="#c4c4c0" stroke-width="1.3"/>
<line x1="106.5" y1="1161.4" x2="799.6" y2="1161.4" stroke="#c4c4c0" stroke-width="1.3"/>
<line x1="106.5" y1="1124.7" x2="799.6" y2="1124.7" stroke="#c4c4c0" stroke-width="1.3"/>
<line x1="106.5" y1="1088.0" x2="799.6" y2="1088.0" stroke="#c4c4c0" stroke-width="1.3"/>
<line x1="106.5" y1="1051.3" x2="799.6" y2="1051.3" stroke="#c4c4c0" stroke-width="1.3"/>
<line x1="799.6" y1="1051.3" x2="799.6" y2="1337" stroke="#d8d6cc" stroke-width="1.2"/>
<line x1="106.5" y1="1308.3" x2="799.6" y2="1308.3" stroke="#333" stroke-width="1.3" stroke-dasharray="6,3"/>
<line x1="112.6" y1="1038" x2="112.6" y2="1337.5" stroke="#8a8a8a" stroke-width="1.6"/>
<polygon points="107.9,1039 112.6,1030.9 117.3,1039" fill="#8a8a8a"/>
<line x1="112" y1="1337" x2="811" y2="1337" stroke="#8a8a8a" stroke-width="1.8"/>
<polygon points="810,1332.3 818.5,1337 810,1341.7" fill="#8a8a8a"/>
<line x1="112.6" y1="1337" x2="112.6" y2="1341.8" stroke="#8a8a8a" stroke-width="1.3"/>
<text x="112.6" y="1356.5" font-size="16" font-weight="normal" font-style="normal" text-anchor="middle" fill="#1a1a1a" stroke="#1a1a1a" stroke-width="0.3" textLength="7.2" lengthAdjust="spacingAndGlyphs">0</text>
<line x1="158.4" y1="1337" x2="158.4" y2="1341.8" stroke="#8a8a8a" stroke-width="1.3"/>
<text x="158.4" y="1356.5" font-size="16" font-weight="normal" font-style="normal" text-anchor="middle" fill="#1a1a1a" stroke="#1a1a1a" stroke-width="0.3" textLength="7.2" lengthAdjust="spacingAndGlyphs">1</text>
<line x1="204.2" y1="1337" x2="204.2" y2="1341.8" stroke="#8a8a8a" stroke-width="1.3"/>
<text x="204.2" y="1356.5" font-size="16" font-weight="normal" font-style="normal" text-anchor="middle" fill="#1a1a1a" stroke="#1a1a1a" stroke-width="0.3" textLength="7.2" lengthAdjust="spacingAndGlyphs">2</text>
<line x1="250.0" y1="1337" x2="250.0" y2="1341.8" stroke="#8a8a8a" stroke-width="1.3"/>
<text x="250.0" y="1356.5" font-size="16" font-weight="normal" font-style="normal" text-anchor="middle" fill="#1a1a1a" stroke="#1a1a1a" stroke-width="0.3" textLength="7.2" lengthAdjust="spacingAndGlyphs">3</text>
<line x1="295.8" y1="1337" x2="295.8" y2="1341.8" stroke="#8a8a8a" stroke-width="1.3"/>
<text x="295.8" y="1356.5" font-size="16" font-weight="normal" font-style="normal" text-anchor="middle" fill="#1a1a1a" stroke="#1a1a1a" stroke-width="0.3" textLength="7.2" lengthAdjust="spacingAndGlyphs">4</text>
<line x1="341.6" y1="1337" x2="341.6" y2="1341.8" stroke="#8a8a8a" stroke-width="1.3"/>
<text x="341.6" y="1356.5" font-size="16" font-weight="normal" font-style="normal" text-anchor="middle" fill="#1a1a1a" stroke="#1a1a1a" stroke-width="0.3" textLength="7.2" lengthAdjust="spacingAndGlyphs">5</text>
<line x1="387.4" y1="1337" x2="387.4" y2="1341.8" stroke="#8a8a8a" stroke-width="1.3"/>
<text x="387.4" y="1356.5" font-size="16" font-weight="normal" font-style="normal" text-anchor="middle" fill="#1a1a1a" stroke="#1a1a1a" stroke-width="0.3" textLength="7.2" lengthAdjust="spacingAndGlyphs">6</text>
<line x1="433.2" y1="1337" x2="433.2" y2="1341.8" stroke="#8a8a8a" stroke-width="1.3"/>
<text x="433.2" y="1356.5" font-size="16" font-weight="normal" font-style="normal" text-anchor="middle" fill="#1a1a1a" stroke="#1a1a1a" stroke-width="0.3" textLength="7.2" lengthAdjust="spacingAndGlyphs">7</text>
<line x1="479.0" y1="1337" x2="479.0" y2="1341.8" stroke="#8a8a8a" stroke-width="1.3"/>
<text x="479.0" y="1356.5" font-size="16" font-weight="normal" font-style="normal" text-anchor="middle" fill="#1a1a1a" stroke="#1a1a1a" stroke-width="0.3" textLength="7.2" lengthAdjust="spacingAndGlyphs">8</text>
<line x1="524.8" y1="1337" x2="524.8" y2="1341.8" stroke="#8a8a8a" stroke-width="1.3"/>
<text x="524.8" y="1356.5" font-size="16" font-weight="normal" font-style="normal" text-anchor="middle" fill="#1a1a1a" stroke="#1a1a1a" stroke-width="0.3" textLength="7.2" lengthAdjust="spacingAndGlyphs">9</text>
<line x1="570.6" y1="1337" x2="570.6" y2="1341.8" stroke="#8a8a8a" stroke-width="1.3"/>
<text x="570.6" y="1356.5" font-size="16" font-weight="normal" font-style="normal" text-anchor="middle" fill="#1a1a1a" stroke="#1a1a1a" stroke-width="0.3" textLength="14.6" lengthAdjust="spacingAndGlyphs">10</text>
<line x1="616.4" y1="1337" x2="616.4" y2="1341.8" stroke="#8a8a8a" stroke-width="1.3"/>
<text x="616.4" y="1356.5" font-size="16" font-weight="normal" font-style="normal" text-anchor="middle" fill="#1a1a1a" stroke="#1a1a1a" stroke-width="0.3" textLength="14.6" lengthAdjust="spacingAndGlyphs">11</text>
<line x1="662.2" y1="1337" x2="662.2" y2="1341.8" stroke="#8a8a8a" stroke-width="1.3"/>
<text x="662.2" y="1356.5" font-size="16" font-weight="normal" font-style="normal" text-anchor="middle" fill="#1a1a1a" stroke="#1a1a1a" stroke-width="0.3" textLength="14.6" lengthAdjust="spacingAndGlyphs">12</text>
<line x1="708.0" y1="1337" x2="708.0" y2="1341.8" stroke="#8a8a8a" stroke-width="1.3"/>
<text x="708.0" y="1356.5" font-size="16" font-weight="normal" font-style="normal" text-anchor="middle" fill="#1a1a1a" stroke="#1a1a1a" stroke-width="0.3" textLength="14.6" lengthAdjust="spacingAndGlyphs">13</text>
<line x1="753.8" y1="1337" x2="753.8" y2="1341.8" stroke="#8a8a8a" stroke-width="1.3"/>
<text x="753.8" y="1356.5" font-size="16" font-weight="normal" font-style="normal" text-anchor="middle" fill="#1a1a1a" stroke="#1a1a1a" stroke-width="0.3" textLength="14.6" lengthAdjust="spacingAndGlyphs">14</text>
<line x1="799.6" y1="1337" x2="799.6" y2="1341.8" stroke="#8a8a8a" stroke-width="1.3"/>
<text x="799.6" y="1356.5" font-size="16" font-weight="normal" font-style="normal" text-anchor="middle" fill="#1a1a1a" stroke="#1a1a1a" stroke-width="0.3" textLength="14.6" lengthAdjust="spacingAndGlyphs">15</text>
<text x="103.5" y="1313.5" font-size="16" font-weight="normal" font-style="normal" text-anchor="end" fill="#1a1a1a" stroke="#1a1a1a" stroke-width="0.3" textLength="7.2" lengthAdjust="spacingAndGlyphs">0</text>
<text x="103.5" y="1276.8" font-size="16" font-weight="normal" font-style="normal" text-anchor="end" fill="#1a1a1a" stroke="#1a1a1a" stroke-width="0.3" textLength="7.2" lengthAdjust="spacingAndGlyphs">5</text>
<text x="103.5" y="1240.1" font-size="16" font-weight="normal" font-style="normal" text-anchor="end" fill="#1a1a1a" stroke="#1a1a1a" stroke-width="0.3" textLength="14.4" lengthAdjust="spacingAndGlyphs">10</text>
<text x="103.5" y="1203.4" font-size="16" font-weight="normal" font-style="normal" text-anchor="end" fill="#1a1a1a" stroke="#1a1a1a" stroke-width="0.3" textLength="14.4" lengthAdjust="spacingAndGlyphs">15</text>
<text x="103.5" y="1166.6" font-size="16" font-weight="normal" font-style="normal" text-anchor="end" fill="#1a1a1a" stroke="#1a1a1a" stroke-width="0.3" textLength="14.4" lengthAdjust="spacingAndGlyphs">20</text>
<text x="103.5" y="1129.9" font-size="16" font-weight="normal" font-style="normal" text-anchor="end" fill="#1a1a1a" stroke="#1a1a1a" stroke-width="0.3" textLength="14.4" lengthAdjust="spacingAndGlyphs">25</text>
<text x="103.5" y="1093.2" font-size="16" font-weight="normal" font-style="normal" text-anchor="end" fill="#1a1a1a" stroke="#1a1a1a" stroke-width="0.3" textLength="14.4" lengthAdjust="spacingAndGlyphs">30</text>
<text x="103.5" y="1056.5" font-size="16" font-weight="normal" font-style="normal" text-anchor="end" fill="#1a1a1a" stroke="#1a1a1a" stroke-width="0.3" textLength="14.4" lengthAdjust="spacingAndGlyphs">35</text>
<text x="89.4" y="1022.7" font-size="16" font-weight="bold" font-style="normal" text-anchor="start" fill="#1a1a1a" stroke="#1a1a1a" stroke-width="0.3" textLength="266.2" lengthAdjust="spacingAndGlyphs">Prix Nobel par 10 millions d’habitants</text>
<text x="511.8" y="1373" font-size="16" fill="#1a1a1a" textLength="307.5" lengthAdjust="spacingAndGlyphs"><tspan font-weight="bold">Consommation de chocolat</tspan> (kg/an/habitant)</text>
<g transform="translate(255.6,1274.6)"><rect x="0.8" y="1.2" width="38.4" height="14.8" fill="#000" opacity="0.10" filter="url(#fsh)"/><rect width="38.400000000000006" height="7.400000000000091" fill="#fff"/><rect y="7.400000000000091" width="38.400000000000006" height="7.400000000000091" fill="#e3000f"/></g>
<g transform="translate(266.4,1274.6)"><rect x="0.8" y="1.2" width="27.6" height="11.2" fill="#000" opacity="0.10" filter="url(#fsh)"/><rect width="9.200000000000008" height="11.200000000000045" fill="#3ba53b"/><rect x="9.200000000000008" width="9.200000000000008" height="11.200000000000045" fill="#fff"/><rect x="18.400000000000016" width="9.200000000000008" height="11.200000000000045" fill="#e3000f"/></g>
<g transform="translate(262.0,1287.4)"><rect x="0.8" y="1.2" width="30.0" height="15.3" fill="#000" opacity="0.10" filter="url(#fsh)"/><rect width="30" height="15.299999999999955" fill="#e3000f"/><rect y="3.8249999999999886" width="30" height="7.649999999999977" fill="#ffcd00"/><rect x="7.5" y="4.5899999999999865" width="6.0" height="6.119999999999982" fill="#9b4a1a" rx="1"/></g>
<g transform="translate(181.9,1284.6)"><rect x="0.8" y="1.2" width="27.1" height="14.4" fill="#000" opacity="0.10" filter="url(#fsh)"/><rect width="27.099999999999994" height="14.400000000000091" fill="#e3000f"/><rect width="10.297999999999998" height="14.400000000000091" fill="#2e8b3a"/><circle cx="10.297999999999998" cy="7.2000000000000455" r="4.320000000000027" fill="none" stroke="#ffd400" stroke-width="1.2"/></g>
<g transform="translate(181.9,1291.8)"><rect x="0.8" y="1.2" width="27.1" height="14.5" fill="#000" opacity="0.10" filter="url(#fsh)"/><rect width="27.099999999999994" height="14.5" fill="#fff"/><circle cx="13.549999999999997" cy="7.25" r="5.800000000000001" fill="#e3000f"/></g>
<g transform="translate(213.3,1287.9)"><rect x="0.8" y="1.2" width="30.7" height="16.3" fill="#000" opacity="0.10" filter="url(#fsh)"/><rect y="0.00" width="30.69999999999999" height="1.81" fill="#2a64c0"/><rect y="1.81" width="30.69999999999999" height="1.81" fill="#fff"/><rect y="3.62" width="30.69999999999999" height="1.81" fill="#2a64c0"/><rect y="5.43" width="30.69999999999999" height="1.81" fill="#fff"/><rect y="7.24" width="30.69999999999999" height="1.81" fill="#2a64c0"/><rect y="9.06" width="30.69999999999999" height="1.81" fill="#fff"/><rect y="10.87" width="30.69999999999999" height="1.81" fill="#2a64c0"/><rect y="12.68" width="30.69999999999999" height="1.81" fill="#fff"/><rect y="14.49" width="30.69999999999999" height="1.81" fill="#2a64c0"/><rect width="11.358999999999996" height="9.06" fill="#2a64c0"/><rect x="4.758499999999998" width="1.8419999999999992" height="9.06" fill="#fff"/><rect y="3.62" width="11.358999999999996" height="1.81" fill="#fff"/></g>
<g transform="translate(228.6,1300.3)"><rect x="0.8" y="1.2" width="30.4" height="16.5" fill="#000" opacity="0.10" filter="url(#fsh)"/><rect width="30.400000000000006" height="16.5" fill="#1e9a3a"/><polygon points="3.040000000000001,8.25 15.200000000000003,1.98 27.360000000000007,8.25 15.200000000000003,14.52" fill="#ffd800"/><circle cx="15.200000000000003" cy="8.25" r="3.96" fill="#2a5db0"/></g>
<g transform="translate(128.4,1300.9)"><rect x="0.8" y="1.2" width="30.4" height="16.7" fill="#000" opacity="0.10" filter="url(#fsh)"/><rect width="30.400000000000006" height="16.699999999999818" fill="#e6141b"/><circle cx="6.080000000000002" cy="5.009999999999946" r="2.6" fill="#ffde00"/><circle cx="11.552000000000003" cy="3.0059999999999674" r="0.9" fill="#ffde00"/><circle cx="12.768000000000002" cy="5.677999999999939" r="0.9" fill="#ffde00"/><circle cx="11.552000000000003" cy="8.349999999999909" r="0.9" fill="#ffde00"/></g>
<g transform="translate(275.6,1258.2)"><rect x="0.8" y="1.2" width="27.6" height="14.8" fill="#000" opacity="0.10" filter="url(#fsh)"/><rect width="27.599999999999966" height="14.799999999999955" fill="#fff"/><rect width="7.175999999999991" height="14.799999999999955" fill="#e3000f"/><rect x="20.423999999999975" width="7.175999999999991" height="14.799999999999955" fill="#e3000f"/><path d="M13.799999999999983,2.959999999999991 L17.111999999999977,6.65999999999998 L18.76799999999998,5.623999999999983 L17.66399999999998,9.61999999999997 L14.351999999999983,9.175999999999972 L14.351999999999983,12.135999999999962 L13.247999999999983,12.135999999999962 L13.247999999999983,9.175999999999972 L9.935999999999988,9.61999999999997 L8.83199999999999,5.623999999999983 L10.487999999999987,6.65999999999998 Z" fill="#e3000f"/></g>
<g transform="translate(305.2,1260.2)"><rect x="0.8" y="1.2" width="27.7" height="14.8" fill="#000" opacity="0.10" filter="url(#fsh)"/><rect width="27.69999999999999" height="14.799999999999955" fill="#1f3f95"/><rect width="12.464999999999995" height="7.399999999999977" fill="#1f3f95"/><path d="M0,0 L12.464999999999995,7.399999999999977 M12.464999999999995,0 L0,7.399999999999977" stroke="#fff" stroke-width="1.6"/><rect x="4.985999999999998" width="2.492999999999999" height="7.399999999999977" fill="#fff"/><rect y="2.959999999999991" width="12.464999999999995" height="1.4799999999999955" fill="#fff"/><rect x="5.539999999999998" width="1.3849999999999996" height="7.399999999999977" fill="#e3000f"/><rect y="3.25599999999999" width="12.464999999999995" height="0.8879999999999972" fill="#e3000f"/><circle cx="6.093999999999998" cy="11.099999999999966" r="1.5" fill="#fff"/><circle cx="20.77499999999999" cy="3.6999999999999886" r="0.9" fill="#fff"/><circle cx="17.173999999999992" cy="7.399999999999977" r="0.9" fill="#fff"/><circle cx="23.54499999999999" cy="7.399999999999977" r="0.9" fill="#fff"/><circle cx="20.77499999999999" cy="12.135999999999962" r="0.9" fill="#fff"/></g>
<g transform="translate(301.0,1237.3)"><rect x="0.8" y="1.2" width="27.3" height="14.8" fill="#000" opacity="0.10" filter="url(#fsh)"/><rect width="9.100000000000003" height="14.799999999999955" fill="#111"/><rect x="9.100000000000003" width="9.100000000000003" height="14.799999999999955" fill="#ffd90f"/><rect x="18.200000000000006" width="9.100000000000003" height="14.799999999999955" fill="#e3000f"/></g>
<g transform="translate(303.2,1217.2)"><rect x="0.8" y="1.2" width="27.3" height="14.5" fill="#000" opacity="0.10" filter="url(#fsh)"/><rect width="27.30000000000001" height="4.833333333333333" fill="#e3000f"/><rect y="4.833333333333333" width="27.30000000000001" height="4.833333333333333" fill="#fff"/><rect y="9.666666666666666" width="27.30000000000001" height="4.833333333333333" fill="#2456a5"/></g>
<g transform="translate(339.9,1220.2)"><rect x="0.8" y="1.2" width="29.0" height="16.2" fill="#000" opacity="0.10" filter="url(#fsh)"/><rect y="0.00" width="29.0" height="1.25" fill="#e3000f"/><rect y="2.49" width="29.0" height="1.25" fill="#e3000f"/><rect y="4.98" width="29.0" height="1.25" fill="#e3000f"/><rect y="7.48" width="29.0" height="1.25" fill="#e3000f"/><rect y="9.97" width="29.0" height="1.25" fill="#e3000f"/><rect y="12.46" width="29.0" height="1.25" fill="#e3000f"/><rect y="14.95" width="29.0" height="1.25" fill="#e3000f"/><rect width="12.18" height="8.748000000000026" fill="#2b5ba8"/></g>
<g transform="translate(387.7,1232.8)"><rect x="0.8" y="1.2" width="26.7" height="16.9" fill="#000" opacity="0.10" filter="url(#fsh)"/><rect width="8.899999999999997" height="16.90000000000009" fill="#e3000f"/><rect x="8.899999999999997" width="8.899999999999997" height="16.90000000000009" fill="#fff"/><rect x="17.799999999999994" width="8.899999999999997" height="16.90000000000009" fill="#1f4ea3"/></g>
<g transform="translate(433.7,1242.3)"><rect x="0.8" y="1.2" width="28.6" height="14.4" fill="#000" opacity="0.10" filter="url(#fsh)"/><rect width="28.600000000000023" height="14.400000000000091" fill="#fff"/><rect x="8.008000000000008" width="4.576000000000004" height="14.400000000000091" fill="#1f4ea3"/><rect y="5.472000000000035" width="28.600000000000023" height="3.4560000000000217" fill="#1f4ea3"/></g>
<g transform="translate(499.1,1207.0)"><rect x="0.8" y="1.2" width="27.6" height="15.0" fill="#000" opacity="0.10" filter="url(#fsh)"/><rect width="9.200000000000008" height="15" fill="#3ca23c"/><rect x="9.200000000000008" width="9.200000000000008" height="15" fill="#fff"/><rect x="18.400000000000016" width="9.200000000000008" height="15" fill="#f7941d"/></g>
<g transform="translate(629.5,1208.5)"><rect x="0.8" y="1.2" width="27.7" height="16.6" fill="#000" opacity="0.10" filter="url(#fsh)"/><rect width="27.700000000000045" height="5.533333333333303" fill="#111"/><rect y="5.533333333333303" width="27.700000000000045" height="5.533333333333303" fill="#e3000f"/><rect y="11.066666666666606" width="27.700000000000045" height="5.533333333333303" fill="#ffcc00"/></g>
<g transform="translate(541.0,1162.0)"><rect x="0.8" y="1.2" width="27.0" height="16.7" fill="#000" opacity="0.10" filter="url(#fsh)"/><rect width="27" height="16.700000000000045" fill="#1b3f8f"/><path d="M0,0 L27,16.700000000000045 M27,0 L0,16.700000000000045" stroke="#fff" stroke-width="3.67400000000001"/><path d="M0,0 L27,16.700000000000045 M27,0 L0,16.700000000000045" stroke="#e3000f" stroke-width="1.3360000000000036"/><rect x="11.34" width="4.32" height="16.700000000000045" fill="#fff"/><rect y="6.012000000000016" width="27" height="4.6760000000000135" fill="#fff"/><rect x="12.42" width="2.16" height="16.700000000000045" fill="#e3000f"/><rect y="7.014000000000019" width="27" height="2.6720000000000073" fill="#e3000f"/></g>
<g transform="translate(486.2,1125.0)"><rect x="0.8" y="1.2" width="24.7" height="15.3" fill="#000" opacity="0.10" filter="url(#fsh)"/><rect width="24.69999999999999" height="15.299999999999955" fill="#e3000f"/><rect y="5.0999999999999845" width="24.69999999999999" height="5.0999999999999845" fill="#fff"/></g>
<g transform="translate(491.6,1112.2)"><rect x="0.8" y="1.2" width="24.7" height="17.0" fill="#000" opacity="0.10" filter="url(#fsh)"/><rect width="24.699999999999932" height="17.0" fill="#e3000f"/><rect x="8.150999999999978" width="2.9639999999999915" height="17.0" fill="#fff"/><rect y="7.48" width="24.699999999999932" height="2.04" fill="#fff"/></g>
<g transform="translate(529.1,1129.2)"><rect x="0.8" y="1.2" width="25.3" height="16.2" fill="#000" opacity="0.10" filter="url(#fsh)"/><rect width="25.299999999999955" height="16.200000000000045" fill="#d8202c"/><rect x="6.324999999999989" width="5.56599999999999" height="16.200000000000045" fill="#fff"/><rect y="6.1560000000000175" width="25.299999999999955" height="3.8880000000000106" fill="#fff"/><rect x="7.589999999999986" width="3.0359999999999943" height="16.200000000000045" fill="#1b4f9c"/><rect y="7.12800000000002" width="25.299999999999955" height="1.9440000000000053" fill="#1b4f9c"/></g>
<g transform="translate(390.7,1067.6)"><rect x="0.8" y="1.2" width="27.7" height="14.0" fill="#000" opacity="0.10" filter="url(#fsh)"/><rect width="27.69999999999999" height="14.0" fill="#0c8ad4"/><rect x="8.309999999999997" width="3.877999999999999" height="14.0" fill="#ffd800"/><rect y="5.32" width="27.69999999999999" height="3.36" fill="#ffd800"/></g>
<g transform="translate(650.0,1062.0)"><rect x="0.8" y="1.2" width="18.4" height="15.1" fill="#000" opacity="0.10" filter="url(#fsh)"/><rect width="18.399999999999977" height="15.099999999999909" fill="#e3000f"/><rect x="7.359999999999991" y="2.5669999999999846" width="3.6799999999999957" height="9.96599999999994" fill="#fff"/><rect x="3.1279999999999966" y="6.039999999999964" width="12.143999999999986" height="3.019999999999982" fill="#fff"/></g>
<line x1="355.6" y1="1212.9" x2="355.6" y2="1220.6" stroke="#222" stroke-width="1.1"/>
<line x1="288.2" y1="1234.2" x2="301.5" y2="1241.9" stroke="#222" stroke-width="1.1"/>
<line x1="257.2" y1="1268.4" x2="261.3" y2="1278.6" stroke="#222" stroke-width="1.1"/>
<line x1="288.9" y1="1281.2" x2="305.8" y2="1281.2" stroke="#222" stroke-width="1.1"/>
<line x1="288.4" y1="1293.5" x2="305.8" y2="1300.1" stroke="#222" stroke-width="1.1"/>
<line x1="227.8" y1="1282.4" x2="227.8" y2="1288.9" stroke="#222" stroke-width="1.1"/>
<line x1="193.7" y1="1277.3" x2="193.7" y2="1286.7" stroke="#222" stroke-width="1.1"/>
<text x="255.8" y="1213.4" font-size="14.2" font-weight="normal" font-style="normal" text-anchor="start" fill="#1a1a1a" stroke="#1a1a1a" stroke-width="0.3" textLength="57.1" lengthAdjust="spacingAndGlyphs">Pays-Bas</text>
<text x="330.5" y="1209.5" font-size="14.2" font-weight="normal" font-style="normal" text-anchor="start" fill="#1a1a1a" stroke="#1a1a1a" stroke-width="0.3" textLength="60.0" lengthAdjust="spacingAndGlyphs">États-Unis</text>
<text x="388.3" y="1227.6" font-size="14.2" font-weight="normal" font-style="normal" text-anchor="start" fill="#1a1a1a" stroke="#1a1a1a" stroke-width="0.3" textLength="40.8" lengthAdjust="spacingAndGlyphs">France</text>
<text x="235.3" y="1230.8" font-size="14.2" font-weight="normal" font-style="normal" text-anchor="start" fill="#1a1a1a" stroke="#1a1a1a" stroke-width="0.3" textLength="52.0" lengthAdjust="spacingAndGlyphs">Belgique</text>
<text x="245.6" y="1251.6" font-size="14.2" font-weight="normal" font-style="normal" text-anchor="start" fill="#1a1a1a" stroke="#1a1a1a" stroke-width="0.3" textLength="44.6" lengthAdjust="spacingAndGlyphs">Canada</text>
<text x="337.3" y="1271.2" font-size="14.2" font-weight="normal" font-style="normal" text-anchor="start" fill="#1a1a1a" stroke="#1a1a1a" stroke-width="0.3" textLength="52.9" lengthAdjust="spacingAndGlyphs">Australie</text>
<text x="215.1" y="1265.3" font-size="14.2" font-weight="normal" font-style="normal" text-anchor="start" fill="#1a1a1a" stroke="#1a1a1a" stroke-width="0.3" textLength="48.1" lengthAdjust="spacingAndGlyphs">Pologne</text>
<text x="149.8" y="1275.1" font-size="14.2" font-weight="normal" font-style="normal" text-anchor="start" fill="#1a1a1a" stroke="#1a1a1a" stroke-width="0.3" textLength="50.3" lengthAdjust="spacingAndGlyphs">Portugal</text>
<text x="208.7" y="1280.7" font-size="14.2" font-weight="normal" font-style="normal" text-anchor="start" fill="#1a1a1a" stroke="#1a1a1a" stroke-width="0.3" textLength="35.4" lengthAdjust="spacingAndGlyphs">Grèce</text>
<text x="309.3" y="1288.9" font-size="14.2" font-weight="normal" font-style="normal" text-anchor="start" fill="#1a1a1a" stroke="#1a1a1a" stroke-width="0.3" textLength="28.7" lengthAdjust="spacingAndGlyphs">Italie</text>
<text x="309.3" y="1304.2" font-size="14.2" font-weight="normal" font-style="normal" text-anchor="start" fill="#1a1a1a" stroke="#1a1a1a" stroke-width="0.3" textLength="50.7" lengthAdjust="spacingAndGlyphs">Espagne</text>
<text x="174.9" y="1319.0" font-size="14.2" font-weight="normal" font-style="normal" text-anchor="start" fill="#1a1a1a" stroke="#1a1a1a" stroke-width="0.3" textLength="37.2" lengthAdjust="spacingAndGlyphs">Japon</text>
<text x="230.0" y="1330.1" font-size="14.2" font-weight="normal" font-style="normal" text-anchor="start" fill="#1a1a1a" stroke="#1a1a1a" stroke-width="0.3" textLength="34.0" lengthAdjust="spacingAndGlyphs">Brésil</text>
<text x="127.4" y="1329.7" font-size="14.2" font-weight="normal" font-style="normal" text-anchor="start" fill="#1a1a1a" stroke="#1a1a1a" stroke-width="0.3" textLength="33.1" lengthAdjust="spacingAndGlyphs">Chine</text>
<text x="478.8" y="1108.8" font-size="14.2" font-weight="normal" font-style="normal" text-anchor="start" fill="#1a1a1a" stroke="#1a1a1a" stroke-width="0.3" textLength="61.9" lengthAdjust="spacingAndGlyphs">Danemark</text>
<text x="427.2" y="1138.3" font-size="14.2" font-weight="normal" font-style="normal" text-anchor="start" fill="#1a1a1a" stroke="#1a1a1a" stroke-width="0.3" textLength="51.1" lengthAdjust="spacingAndGlyphs">Autriche</text>
<text x="562.9" y="1141.7" font-size="14.2" font-weight="normal" font-style="normal" text-anchor="start" fill="#1a1a1a" stroke="#1a1a1a" stroke-width="0.3" textLength="50.6" lengthAdjust="spacingAndGlyphs">Norvège</text>
<text x="574.3" y="1174.4" font-size="14.2" font-weight="normal" font-style="normal" text-anchor="start" fill="#1a1a1a" stroke="#1a1a1a" stroke-width="0.3" textLength="104.5" lengthAdjust="spacingAndGlyphs">Grande-Bretagne</text>
<text x="493.6" y="1203.9" font-size="14.2" font-weight="normal" font-style="normal" text-anchor="start" fill="#1a1a1a" stroke="#1a1a1a" stroke-width="0.3" textLength="41.4" lengthAdjust="spacingAndGlyphs">Irlande</text>
<text x="663.9" y="1221.4" font-size="14.2" font-weight="normal" font-style="normal" text-anchor="start" fill="#1a1a1a" stroke="#1a1a1a" stroke-width="0.3" textLength="63.9" lengthAdjust="spacingAndGlyphs">Allemagne</text>
<text x="466.0" y="1255.2" font-size="14.2" font-weight="normal" font-style="normal" text-anchor="start" fill="#1a1a1a" stroke="#1a1a1a" stroke-width="0.3" textLength="50.0" lengthAdjust="spacingAndGlyphs">Finlande</text>
<text x="422.6" y="1078.4" font-size="14.2" font-weight="normal" font-style="normal" text-anchor="start" fill="#1a1a1a" stroke="#1a1a1a" stroke-width="0.3" textLength="37.5" lengthAdjust="spacingAndGlyphs">Suède</text>
<text x="674.5" y="1073.9" font-size="14.2" font-weight="normal" font-style="normal" text-anchor="start" fill="#1a1a1a" stroke="#1a1a1a" stroke-width="0.3" textLength="38.8" lengthAdjust="spacingAndGlyphs">Suisse</text>
</svg>
<svg width="1173" height="1500" viewBox="0 0 1173 1500" style="font-family:'Liberation Sans',sans-serif">
<text x="1127.5" y="941.2" font-size="15" text-anchor="end" fill="#1a1a1a" stroke="#1a1a1a" stroke-width="0.3" textLength="405" lengthAdjust="spacingAndGlyphs">« Corrélation et causalité : peut-on décrocher un prix Nobel</text>
<text x="1127.5" y="957.8" font-size="15" text-anchor="end" fill="#1a1a1a" stroke="#1a1a1a" stroke-width="0.3" textLength="410" lengthAdjust="spacingAndGlyphs">en mangeant du chocolat ? », <tspan font-style="italic">Le Monde</tspan>, 12 septembre 2019.</text>
<text x="165.8" y="1403.2" font-size="16" fill="#1a1a1a" stroke="#1a1a1a" stroke-width="0.3" textLength="581.7" lengthAdjust="spacingAndGlyphs">Franz Messerli, « Chocolate Consumption, Cognitive Function, and Nobel Laureates »,</text>
<text x="437.8" y="1420" font-size="16" fill="#1a1a1a" stroke="#1a1a1a" stroke-width="0.3" textLength="306.8" lengthAdjust="spacingAndGlyphs"><tspan font-style="italic">The New England Journal of Medecine</tspan>, 2012.</text>
<text x="82.3" y="1464" font-size="16" text-anchor="end" fill="#1a1a1a" stroke="#1a1a1a" stroke-width="0.3" textLength="15.2" lengthAdjust="spacingAndGlyphs">18</text>
<circle cx="850.3" cy="1095" r="11.6" fill="#e8540c"/>
<text x="850.3" y="1100.6" font-size="16" font-weight="bold" fill="#fff" text-anchor="middle">1</text>
<circle cx="850.3" cy="1243" r="11.6" fill="#e8540c"/>
<text x="850.3" y="1248.6" font-size="16" font-weight="bold" fill="#fff" text-anchor="middle">2</text>
<circle cx="850.3" cy="1342" r="11.6" fill="#e8540c"/>
<text x="850.3" y="1347.6" font-size="16" font-weight="bold" fill="#fff" text-anchor="middle">3</text>
</svg>
<div class="a qs" style="top:1084.5px;"><b>Comprendre.</b> La corrélation<br>décrite ici est-elle positive<br>ou négative&#8239;? Déduisez-en<br>une définition de la corrélation<br>positive et de la corrélation<br>négative.</div>
<div class="a qs" style="top:1231.5px;"><b>Déduire.</b> Peut-on établir un lien<br>de causalité entre consommation<br>de chocolat et nombre de prix<br>Nobel&#8239;?</div>
<div class="a qs" style="top:1331.5px;"><b>Analyser.</b> Formulez<br>des hypothèses pour expliquer<br>cette corrélation.</div>
</body>
</html>
